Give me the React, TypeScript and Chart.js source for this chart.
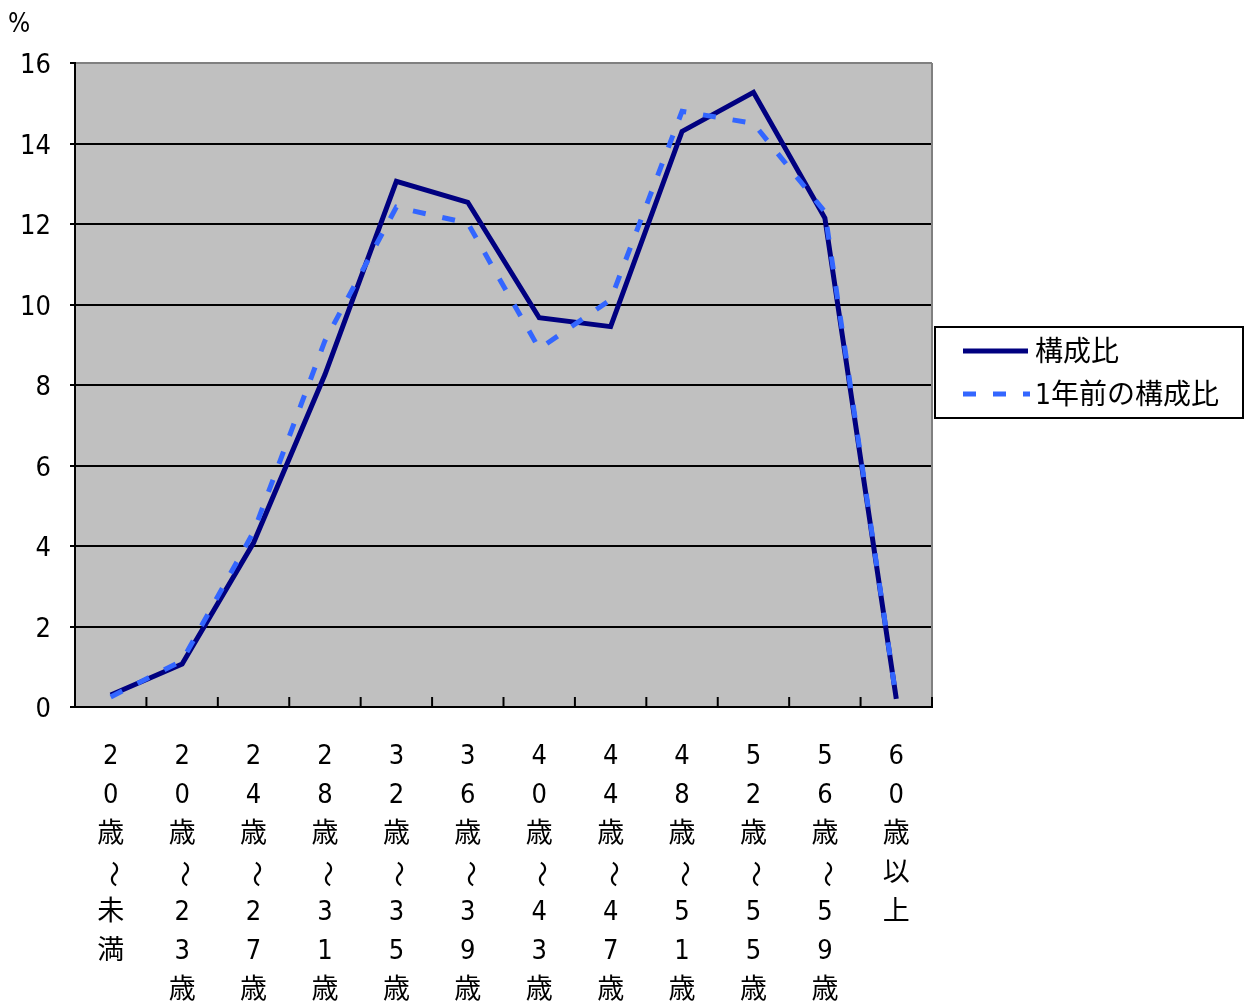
import React, { useEffect, useRef } from "react";
import { Chart, registerables } from "chart.js";
Chart.register(...registerables);

const categories = [
  "20歳～未満",
  "20歳～23歳",
  "24歳～27歳",
  "28歳～31歳",
  "32歳～35歳",
  "36歳～39歳",
  "40歳～43歳",
  "44歳～47歳",
  "48歳～51歳",
  "52歳～55歳",
  "56歳～59歳",
  "60歳以上",
];
const currentShare = [0.3, 1.07, 4.08, 8.26, 13.06, 12.54, 9.67, 9.45, 14.3, 15.27, 12.15, 0.2];
const prevYearShare = [0.25, 1.15, 4.35, 9.1, 12.42, 12.02, 8.9, 10.12, 14.8, 14.5, 12.3, 0.2];
const yTicks = [0, 2, 4, 6, 8, 10, 12, 14, 16];
const seriesNames = ["構成比", "1年前の構成比"];
const unitLabel = "%";

const FONT = '"DejaVu Sans Condensed", "Noto Sans CJK JP", "Noto Sans", sans-serif';
const SOLID = "#000080";
const DASH = "#3366FF";
const DASH_PATTERN = [13, 17];

const chartDecor = {
  id: "chartDecor",
  beforeDatasetsDraw(chart: any) {
    const { ctx, chartArea } = chart;
    ctx.save();
    ctx.strokeStyle = "#808080";
    ctx.lineWidth = 2;
    ctx.beginPath();
    ctx.moveTo(chartArea.right, chartArea.top);
    ctx.lineTo(chartArea.right, chartArea.bottom);
    ctx.stroke();
    const xs = chart.scales.x;
    const n = categories.length;
    ctx.strokeStyle = "#000";
    ctx.lineWidth = 2;
    for (let i = 0; i <= n; i++) {
      let x: number;
      if (i === 0) x = chartArea.left;
      else if (i === n) x = chartArea.right;
      else x = (xs.getPixelForValue(i - 1) + xs.getPixelForValue(i)) / 2;
      ctx.beginPath();
      ctx.moveTo(x, chartArea.bottom);
      ctx.lineTo(x, chartArea.bottom - 10);
      ctx.stroke();
    }
    ctx.restore();
  },
  beforeDraw(chart: any) {
    const { ctx, chartArea } = chart;
    ctx.save();
    ctx.fillStyle = "#fff";
    ctx.fillRect(0, 0, chart.width, chart.height);
    ctx.fillStyle = "#C0C0C0";
    ctx.fillRect(chartArea.left, chartArea.top, chartArea.right - chartArea.left, chartArea.bottom - chartArea.top);
    ctx.restore();
  },
  afterDraw(chart: any) {
    const { ctx, chartArea } = chart;
    const xs = chart.scales.x;
    const ys = chart.scales.y;
    ctx.save();
    ctx.fillStyle = "#000";
    ctx.font = `26px ${FONT}`;
    ctx.textAlign = "center";
    ctx.textBaseline = "middle";
    ctx.fillText(unitLabel, 19, 25);
    // y tick labels
    ctx.font = `27px ${FONT}`;
    ctx.textAlign = "right";
    yTicks.forEach((v) => {
      ctx.fillText(String(v), 51, ys.getPixelForValue(v) + 3);
    });
    // x labels (vertical)
    ctx.textAlign = "center";
    categories.forEach((label, i) => {
      const x = xs.getPixelForValue(i);
      const chars = Array.from(label);
      chars.forEach((ch, j) => {
        const y = chartArea.bottom + 50 + j * 39;
        if (ch === "～") {
          ctx.save();
          ctx.translate(x, y);
          ctx.rotate(Math.PI / 2);
          ctx.fillText(ch, 0, 0);
          ctx.restore();
        } else {
          ctx.fillText(ch, x, y);
        }
      });
    });
    // legend
    const lx = chartArea.right + 3;
    const ly = 327;
    const lw = 308;
    const lh = 91;
    ctx.fillStyle = "#fff";
    ctx.fillRect(lx, ly, lw, lh);
    ctx.strokeStyle = "#000";
    ctx.lineWidth = 2;
    ctx.strokeRect(lx, ly, lw, lh);
    ctx.lineWidth = 5;
    ctx.strokeStyle = SOLID;
    ctx.beginPath();
    ctx.moveTo(lx + 28, ly + 24);
    ctx.lineTo(lx + 93, ly + 24);
    ctx.stroke();
    ctx.strokeStyle = DASH;
    ctx.setLineDash(DASH_PATTERN);
    ctx.beginPath();
    ctx.moveTo(lx + 28, ly + 67);
    ctx.lineTo(lx + 95, ly + 67);
    ctx.stroke();
    ctx.setLineDash([]);
    ctx.fillStyle = "#000";
    ctx.font = `28px ${FONT}`;
    ctx.textAlign = "left";
    ctx.fillText(seriesNames[0], lx + 100, ly + 27);
    ctx.fillText(seriesNames[1], lx + 100, ly + 70);
    ctx.restore();
  },
};

export default function App() {
  const ref = useRef<HTMLCanvasElement | null>(null);
  useEffect(() => {
    document.body.style.margin = "0";
    if (!ref.current) return;
    const chart = new Chart(ref.current, {
      type: "line",
      data: {
        labels: categories,
        datasets: [
          {
            label: seriesNames[0],
            data: currentShare,
            borderColor: SOLID,
            borderWidth: 5,
            pointRadius: 0,
            tension: 0,
            borderJoinStyle: "miter",
            order: 1,
            clip: false as any,
          },
          {
            label: seriesNames[1],
            data: prevYearShare,
            borderColor: DASH,
            borderWidth: 5,
            borderDash: DASH_PATTERN,
            pointRadius: 0,
            tension: 0,
            order: 0,
            clip: false as any,
          },
        ],
      },
      options: {
        animation: false,
        responsive: false,
        devicePixelRatio: 1,
        layout: { padding: { left: 0, right: 318, top: 63, bottom: 0 } },
        plugins: { legend: { display: false }, tooltip: { enabled: false } },
        scales: {
          x: {
            type: "category",
            offset: true,
            grid: { display: false },
            border: { display: true, color: "#000", width: 2 },
            ticks: { display: false },
            afterFit(scale: any) {
              scale.height = 301;
            },
          },
          y: {
            min: 0,
            max: 16,
            afterBuildTicks(scale: any) {
              scale.ticks = yTicks.map((v) => ({ value: v }));
            },
            grid: {
              color: (c: any) => (c.tick && c.tick.value === 16 ? "#808080" : "#000"),
              lineWidth: 2,
              tickLength: 5,
              tickColor: "#000",
            },
            border: { display: true, color: "#000", width: 2 },
            ticks: { display: false },
            afterFit(scale: any) {
              scale.width = 75;
            },
          },
        },
      },
      plugins: [chartDecor],
    });
    return () => chart.destroy();
  }, []);
  return (
    <div style={{ width: 1250, height: 1008 }}>
      <canvas ref={ref} width={1250} height={1008} style={{ display: "block" }} />
    </div>
  );
}
